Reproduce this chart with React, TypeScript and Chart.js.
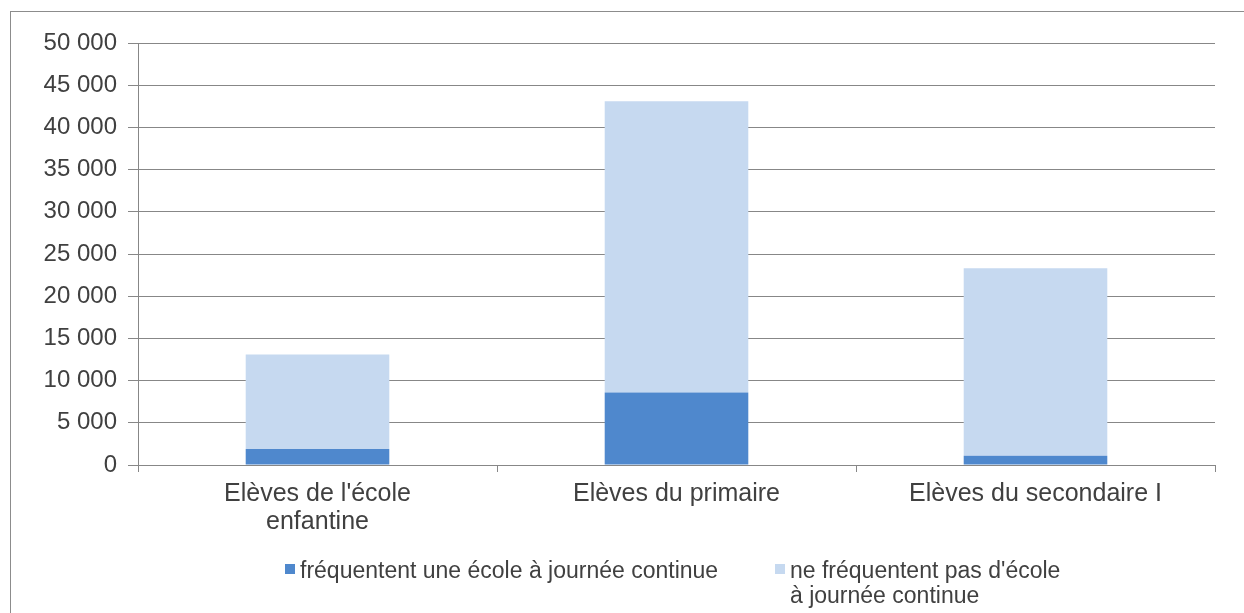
import React, { useEffect, useRef } from "react";
import { Chart, registerables } from "chart.js";

Chart.register(...registerables);

const categories: string[][] = [
  ["Elèves de l'école", "enfantine"],
  ["Elèves du primaire"],
  ["Elèves du secondaire I"],
];
const seriesLabels: string[][] = [
  ["fréquentent une école à journée continue"],
  ["ne fréquentent pas d'école", "à journée continue"],
];
const attending: number[] = [1900, 8600, 1100];
const notAttending: number[] = [11200, 34500, 22200];
const yMin = 0;
const yMax = 50000;
const yStep = 5000;

const DARK = "#4F88CD";
const LIGHT = "#C6D9F0";
const GRID = "#878787";
const TEXT = "#404040";
const FONT = "'Liberation Sans', Arial, sans-serif";

const fmt = (v: number) => String(v).replace(/\B(?=(\d{3})+(?!\d))/g, " ");

const legendPlugin = {
  id: "customLegend",
  afterDraw(chart: any) {
    const ctx = chart.ctx;
    const items = [
      { x: 285, color: DARK },
      { x: 775, color: LIGHT },
    ];
    ctx.save();
    ctx.font = `23px ${FONT}`;
    ctx.textBaseline = "middle";
    ctx.textAlign = "left";
    chart.data.datasets.forEach((ds: any, i: number) => {
      const it = items[i];
      const y0 = 572;
      ctx.fillStyle = ds.backgroundColor;
      ctx.fillRect(it.x, y0 - 8, 10, 10);
      ctx.fillStyle = TEXT;
      const lines: string[] = seriesLabels[i];
      lines.forEach((line, j) => {
        ctx.fillText(line, it.x + 15, y0 + j * 25);
      });
    });
    ctx.restore();
  },
};

export default function App() {
  const ref = useRef<HTMLCanvasElement>(null);
  useEffect(() => {
    if (!ref.current) return;
    const chart = new Chart(ref.current, {
      type: "bar",
      data: {
        labels: categories,
        datasets: [
          {
            label: seriesLabels[0].join(" "),
            data: attending,
            backgroundColor: DARK,
            barPercentage: 0.4,
            categoryPercentage: 1,
          },
          {
            label: seriesLabels[1].join(" "),
            data: notAttending,
            backgroundColor: LIGHT,
            barPercentage: 0.4,
            categoryPercentage: 1,
          },
        ],
      },
      options: {
        responsive: false,
        animation: false,
        devicePixelRatio: 1,
        layout: { padding: { left: 0, top: 43, right: 29, bottom: 68 } },
        plugins: {
          legend: { display: false },
          tooltip: { enabled: false },
        },
        scales: {
          x: {
            stacked: true,
            afterFit: (s: any) => {
              s.height = 80;
            },
            grid: {
              offset: true,
              drawOnChartArea: false,
              drawTicks: true,
              tickLength: 7,
              color: GRID,
            },
            border: { color: GRID },
            ticks: {
              color: TEXT,
              font: { family: FONT, size: 25, lineHeight: 1.12 },
              padding: 8,
              maxRotation: 0,
              autoSkip: false,
            },
          },
          y: {
            stacked: true,
            min: yMin,
            max: yMax,
            afterFit: (s: any) => {
              s.width = 138;
            },
            grid: { color: GRID, tickLength: 10, drawTicks: true },
            border: { color: GRID },
            ticks: {
              stepSize: yStep,
              color: TEXT,
              font: { family: FONT, size: 24 },
              padding: 11,
              callback: (v: any) => fmt(Number(v)),
            },
          },
        },
      },
      plugins: [legendPlugin],
    });
    return () => chart.destroy();
  }, []);
  return (
    <div style={{ position: "absolute", left: 0, top: 0, width: 1244, height: 613, overflow: "hidden", background: "#fff" }}>
      <div
        style={{
          position: "absolute",
          left: 10,
          top: 11,
          width: 1240,
          height: 640,
          border: "1px solid #8c8c8c",
          boxSizing: "border-box",
        }}
      />
      <canvas ref={ref} width={1244} height={613} style={{ position: "absolute", left: 0, top: 0, width: 1244, height: 613 }} />
    </div>
  );
}
